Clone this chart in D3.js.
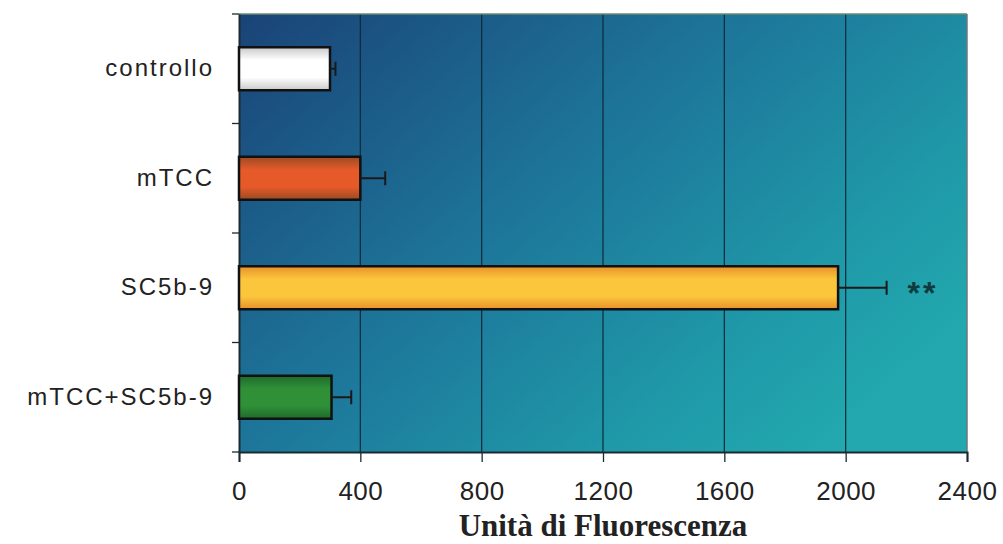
<!DOCTYPE html>
<html><head><meta charset="utf-8">
<script src="https://cdn.jsdelivr.net/npm/d3@7"></script>
<style>body{margin:0;background:#fff}svg{display:block}</style>
</head><body>
<script>
const categories = ["controllo", "mTCC", "SC5b-9", "mTCC+SC5b-9"];
const values = [300, 400, 1975, 305];
const errors = [18, 82, 160, 65];
const significance = ["", "", "**", ""];
const xTicks = [0, 400, 800, 1200, 1600, 2000, 2400];
const xTitle = "Unità di Fluorescenza";
const barColors = [["#c9c9c9","#ffffff"],["#9a4a22","#e65a2a"],["#e8902a","#fbc63c"],["#1f6a2a","#2f9038"]];

const W = 1003, H = 544;
const m = {left: 239, right: 36, top: 14, bottom: 92};
const svg = d3.select("body").append("svg").attr("width", W).attr("height", H);
const defs = svg.append("defs");
const bg = defs.append("linearGradient").attr("id","bg").attr("x1","0").attr("y1","0").attr("x2","1").attr("y2","0.7");
bg.append("stop").attr("offset","0").attr("stop-color","#1a4377");
bg.append("stop").attr("offset","0.45").attr("stop-color","#1d7499");
bg.append("stop").attr("offset","0.8").attr("stop-color","#1f98a8");
bg.append("stop").attr("offset","1").attr("stop-color","#22a8ae");
barColors.forEach((c,i)=>{
  const g = defs.append("linearGradient").attr("id","b"+i).attr("x1","0").attr("y1","0").attr("x2","0").attr("y2","1");
  g.append("stop").attr("offset","0").attr("stop-color",c[0]);
  g.append("stop").attr("offset","0.3").attr("stop-color",c[1]);
  g.append("stop").attr("offset","0.7").attr("stop-color",c[1]);
  g.append("stop").attr("offset","1").attr("stop-color",c[0]);
});

const x = d3.scaleLinear().domain([0, 2400]).range([m.left, W - m.right]);
const yb = d3.scaleBand().domain(categories).range([m.top, H - m.bottom]);

svg.append("rect").attr("x", m.left).attr("y", m.top).attr("width", x(2400)-m.left).attr("height", H-m.bottom-m.top).attr("fill","url(#bg)");

// gridlines
svg.append("g").selectAll("line").data(xTicks.slice(1, -1)).join("line")
  .attr("x1", d=>x(d)).attr("x2", d=>x(d)).attr("y1", m.top).attr("y2", H-m.bottom)
  .attr("stroke","#0d2a3a").attr("stroke-width",1.2);
svg.append("line").attr("x1", x(2400)).attr("x2", x(2400)).attr("y1", m.top).attr("y2", H-m.bottom).attr("stroke","#6a7a80").attr("stroke-width",1.5);
svg.append("line").attr("x1", m.left).attr("x2", x(2400)).attr("y1", m.top).attr("y2", m.top).attr("stroke","#6a8a70").attr("stroke-width",1.5);

// x axis
const xAxis = svg.append("g").attr("transform", `translate(0,${H-m.bottom})`)
  .call(d3.axisBottom(x).tickValues(xTicks).tickSize(10).tickPadding(20).tickFormat(d3.format("d")));
xAxis.select(".domain").attr("stroke","#1a2a30").attr("stroke-width",2);
xAxis.selectAll(".tick line").attr("stroke","#1a2a30").attr("stroke-width",1.3);
xAxis.selectAll("text").attr("font-family","Liberation Sans, Arial, sans-serif").attr("font-size",26).attr("letter-spacing","0.5px").attr("fill","#222");

// y axis
const yAxis = svg.append("g").attr("transform", `translate(${m.left},0)`)
  .call(d3.axisLeft(yb).tickSize(0).tickPadding(25));
yAxis.select(".domain").attr("stroke","#1a2a30").attr("stroke-width",2);
yAxis.selectAll("text").attr("font-family","Liberation Sans, Arial, sans-serif").attr("font-size",24).attr("letter-spacing","2px").attr("fill","#222");
const bounds = d3.range(categories.length+1).map(i => m.top + i*yb.step());
yAxis.append("g").selectAll("line").data(bounds).join("line")
  .attr("x1",-7).attr("x2",0).attr("y1",d=>d).attr("y2",d=>d).attr("stroke","#1a2a30").attr("stroke-width",1.3);

// bars
const data = categories.map((c,i)=>({c, v: values[i], e: errors[i], s: significance[i], i}));
const cy = d => yb(d.c) + yb.bandwidth()/2;
const bh = 43;
svg.append("g").selectAll("rect").data(data).join("rect")
  .attr("x", x(0)).attr("y", d=>cy(d)-bh/2).attr("width", d=>x(d.v)-x(0)).attr("height", bh)
  .attr("fill", d=>`url(#b${d.i})`).attr("stroke","#111").attr("stroke-width",2.5);

// error bars
const eg = svg.append("g").attr("stroke","#1a1a1a").attr("stroke-width",2);
eg.selectAll(".eh").data(data).join("line").attr("x1", d=>x(d.v)).attr("x2", d=>x(d.v+d.e)).attr("y1", cy).attr("y2", cy);
eg.selectAll(".ec").data(data).join("line").attr("x1", d=>x(d.v+d.e)).attr("x2", d=>x(d.v+d.e)).attr("y1", d=>cy(d)-7).attr("y2", d=>cy(d)+7);

svg.append("g").selectAll("text").data(data.filter(d=>d.s)).join("text")
  .attr("x", d=>x(d.v+d.e)+21).attr("y", d=>cy(d)+16)
  .attr("font-family","Liberation Sans, Arial, sans-serif").attr("font-size",32).attr("font-weight","bold").attr("letter-spacing","3px")
  .attr("fill","#0f3a3e").text(d=>d.s);

svg.append("text").attr("x", (m.left + x(2400))/2).attr("y", 536).attr("text-anchor","middle")
  .attr("font-family","Liberation Serif, Times New Roman, serif").attr("font-weight","bold").attr("font-size",31).attr("fill","#222").text(xTitle);
</script>
</body></html>
